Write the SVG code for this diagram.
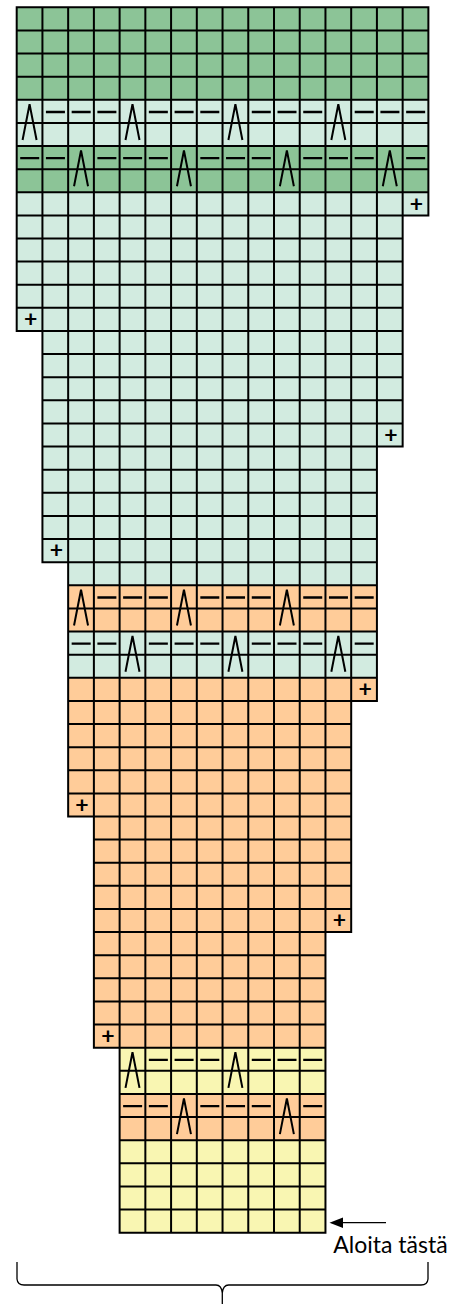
<svg xmlns="http://www.w3.org/2000/svg" width="464" height="1304" viewBox="0 0 464 1304">
<style>
.dg{fill:#8CC497}
.lg{fill:#D2EBE0}
.or{fill:#FFCC99}
.ye{fill:#F9F6B2}
.grid{fill:none;stroke:#000;stroke-width:2;stroke-linecap:square}
.sym{fill:none;stroke:#000;stroke-width:2}
.dash{fill:none;stroke:#000;stroke-width:2.3}
.plus{font-family:Lato,"Liberation Sans",sans-serif;font-weight:bold;font-size:23px;text-anchor:middle;fill:#000}
.lbl{font-family:Lato,"Liberation Sans",sans-serif;font-size:23px;fill:#000}
.thin{fill:none;stroke:#000;stroke-width:1.3}
</style>
<rect width="464" height="1304" fill="#fff"/>
<g id="fills">
<rect class="dg" x="16.7" y="7.3" width="411.68" height="92.48"/>
<rect class="lg" x="16.7" y="99.78" width="411.68" height="46.24"/>
<rect class="dg" x="16.7" y="146.02" width="411.68" height="46.24"/>
<path class="lg" d="M16.7,192.26 H428.38 V215.38 H402.65 V446.58 H376.92 V585.3 H68.16 V562.18 H42.43 V330.98 H16.7 Z"/>
<rect class="or" x="68.16" y="585.3" width="308.76" height="46.24"/>
<rect class="lg" x="68.16" y="631.54" width="308.76" height="46.24"/>
<path class="or" d="M68.16,677.78 H376.92 V700.9 H351.19 V932.1 H325.46 V1047.7 H93.89 V816.5 H68.16 Z"/>
<rect class="ye" x="119.62" y="1047.7" width="205.84" height="46.24"/>
<rect class="or" x="119.62" y="1093.94" width="205.84" height="46.24"/>
<rect class="ye" x="119.62" y="1140.18" width="205.84" height="92.48"/>
</g>
<g id="grid">
<path class="grid" d="M16.7,7.3H428.38 M16.7,30.42H428.38 M16.7,53.54H428.38 M16.7,76.66H428.38 M16.7,99.78H428.38 M16.7,122.9H428.38 M16.7,146.02H428.38 M16.7,169.14H428.38 M16.7,192.26H428.38 M16.7,215.38H428.38
M16.7,238.5H402.65 M16.7,261.62H402.65 M16.7,284.74H402.65 M16.7,307.86H402.65 M16.7,330.98H402.65
M42.43,354.1H402.65 M42.43,377.22H402.65 M42.43,400.34H402.65 M42.43,423.46H402.65 M42.43,446.58H402.65
M42.43,469.7H376.92 M42.43,492.82H376.92 M42.43,515.94H376.92 M42.43,539.06H376.92 M42.43,562.18H376.92
M68.16,585.3H376.92 M68.16,608.42H376.92 M68.16,631.54H376.92 M68.16,654.66H376.92 M68.16,677.78H376.92 M68.16,700.9H376.92
M68.16,724.02H351.19 M68.16,747.14H351.19 M68.16,770.26H351.19 M68.16,793.38H351.19 M68.16,816.5H351.19
M93.89,839.62H351.19 M93.89,862.74H351.19 M93.89,885.86H351.19 M93.89,908.98H351.19 M93.89,932.1H351.19
M93.89,955.22H325.46 M93.89,978.34H325.46 M93.89,1001.46H325.46 M93.89,1024.58H325.46 M93.89,1047.7H325.46
M119.62,1070.82H325.46 M119.62,1093.94H325.46 M119.62,1117.06H325.46 M119.62,1140.18H325.46 M119.62,1163.3H325.46 M119.62,1186.42H325.46 M119.62,1209.54H325.46 M119.62,1232.66H325.46
M16.7,7.3V330.98 M42.43,7.3V562.18 M68.16,7.3V816.5 M93.89,7.3V1047.7
M119.62,7.3V1232.66 M145.35,7.3V1232.66 M171.08,7.3V1232.66 M196.81,7.3V1232.66 M222.54,7.3V1232.66 M248.27,7.3V1232.66 M274,7.3V1232.66 M299.73,7.3V1232.66 M325.46,7.3V1232.66
M351.19,7.3V932.1 M376.92,7.3V700.9 M402.65,7.3V446.58 M428.38,7.3V215.38"/>
</g>
<g id="decreases">
<path class="sym" d="M22.57,140 L29.57,104.3 L36.57,140 M125.49,140 L132.49,104.3 L139.49,140 M228.4,140 L235.4,104.3 L242.4,140 M331.33,140 L338.33,104.3 L345.33,140"/>
<path class="sym" d="M74.03,186.24 L81.03,150.54 L88.03,186.24 M176.95,186.24 L183.95,150.54 L190.95,186.24 M279.87,186.24 L286.87,150.54 L293.87,186.24 M382.79,186.24 L389.79,150.54 L396.79,186.24"/>
<path class="sym" d="M74.03,625.5 L81.03,589.8 L88.03,625.5 M176.95,625.5 L183.95,589.8 L190.95,625.5 M279.87,625.5 L286.87,589.8 L293.87,625.5"/>
<path class="sym" d="M125.49,671.74 L132.49,636.04 L139.49,671.74 M228.4,671.74 L235.4,636.04 L242.4,671.74 M331.33,671.74 L338.33,636.04 L345.33,671.74"/>
<path class="sym" d="M125.49,1087.9 L132.49,1052.2 L139.49,1087.9 M228.4,1087.9 L235.4,1052.2 L242.4,1087.9"/>
<path class="sym" d="M176.95,1134.14 L183.95,1098.44 L190.95,1134.14 M279.87,1134.14 L286.87,1098.44 L293.87,1134.14"/>
</g>
<g id="dashes">
<path class="dash" d="M45.93,112h19 M71.66,112h19 M97.39,112h19 M148.85,112h19 M174.58,112h19 M200.31,112h19 M251.77,112h19 M277.5,112h19 M303.23,112h19 M354.69,112h19 M380.42,112h19 M406.15,112h19"/>
<path class="dash" d="M20.2,158.2h19 M45.93,158.2h19 M97.39,158.2h19 M123.12,158.2h19 M148.85,158.2h19 M200.31,158.2h19 M226.04,158.2h19 M251.77,158.2h19 M303.23,158.2h19 M328.96,158.2h19 M354.69,158.2h19 M406.15,158.2h19"/>
<path class="dash" d="M97.39,597.5h19 M123.12,597.5h19 M148.85,597.5h19 M200.31,597.5h19 M226.04,597.5h19 M251.77,597.5h19 M303.23,597.5h19 M328.96,597.5h19 M354.69,597.5h19"/>
<path class="dash" d="M71.66,643.7h19 M97.39,643.7h19 M148.85,643.7h19 M174.58,643.7h19 M200.31,643.7h19 M251.77,643.7h19 M277.5,643.7h19 M303.23,643.7h19 M354.69,643.7h19"/>
<path class="dash" d="M148.85,1059.9h19 M174.58,1059.9h19 M200.31,1059.9h19 M251.77,1059.9h19 M277.5,1059.9h19 M303.23,1059.9h19"/>
<path class="dash" d="M123.12,1106.1h19 M148.85,1106.1h19 M200.31,1106.1h19 M226.04,1106.1h19 M251.77,1106.1h19 M303.23,1106.1h19"/>
</g>
<g id="increases">
<text class="plus" x="416.5" y="211.6">+</text>
<text class="plus" x="30.6" y="327.2">+</text>
<text class="plus" x="390.8" y="442.8">+</text>
<text class="plus" x="56.3" y="558.4">+</text>
<text class="plus" x="365.1" y="697.1">+</text>
<text class="plus" x="82" y="812.7">+</text>
<text class="plus" x="339.3" y="928.3">+</text>
<text class="plus" x="107.8" y="1043.9">+</text>
</g>
<g id="start-arrow">
<line class="thin" x1="386" y1="1222.7" x2="340" y2="1222.7"/>
<polygon points="329.5,1222.7 343,1217.5 343,1227.9" fill="#000"/>
</g>
<g id="start-label">
<text class="lbl" x="333.3" y="1252.7">Aloita tästä</text>
</g>
<g id="brace">
<path class="thin" d="M17,1262 V1279 Q17.5,1285 24,1285 H216 Q221.5,1285 222.3,1293 V1304 M428,1262 V1279 Q427.5,1285 421,1285 H228.6 Q223.1,1285 222.3,1293"/>
</g>
</svg>
